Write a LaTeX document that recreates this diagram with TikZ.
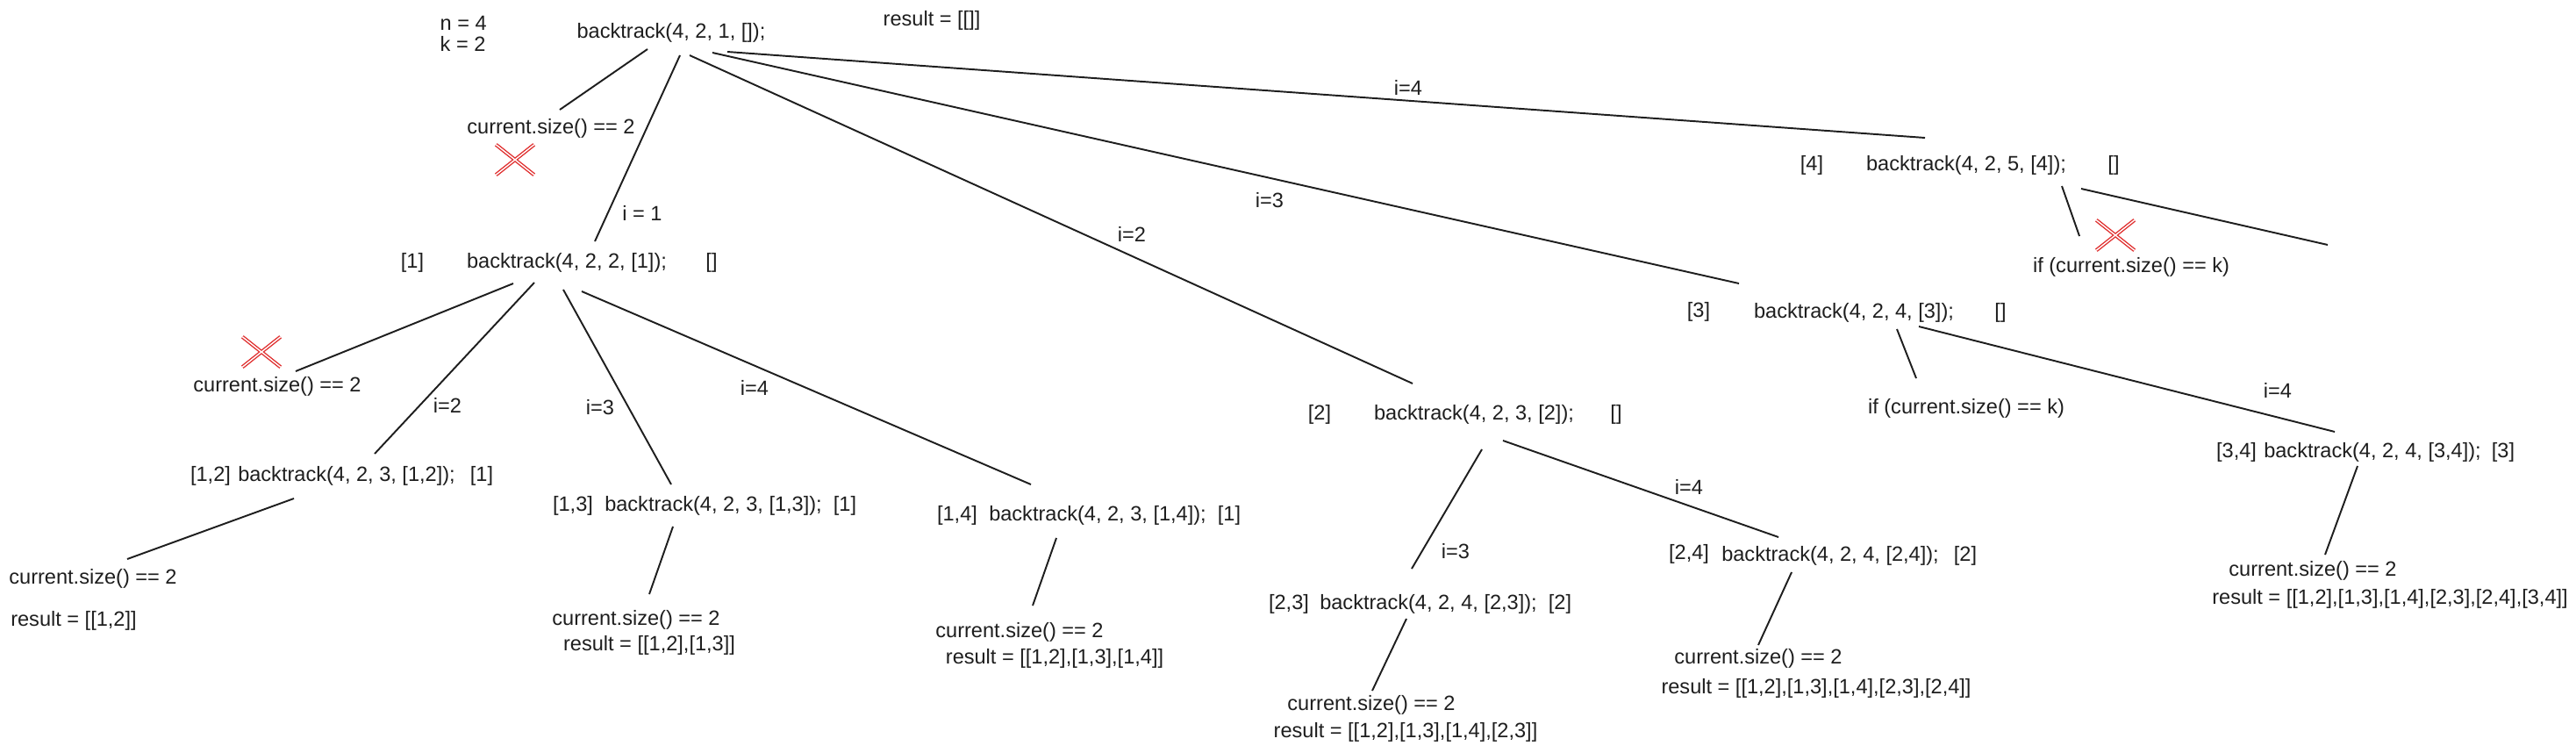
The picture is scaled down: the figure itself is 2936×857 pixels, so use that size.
\documentclass[tikz,border=0pt]{standalone}
\usepackage{fontspec}
\setmainfont{Liberation Sans}
\usepackage{xcolor}
\definecolor{inkblack}{RGB}{30, 30, 30}
\definecolor{crossred}{RGB}{224, 49, 49}
\usetikzlibrary{shapes.misc}

\begin{document}
\begin{tikzpicture}[x=0.01cm, y=-0.01cm,
    txt/.style={inner sep=0pt, text=inkblack, font=\fontsize{6.7}{8}\selectfont},
    link/.style={draw=inkblack, line width=0.55pt},
    prune/.style={cross out, draw=crossred, line width=0.4pt, double=white, double distance=0.4pt, minimum width=0.42cm, minimum height=0.33cm, inner sep=0pt}]
    \useasboundingbox (0,0) rectangle (2936,857);

    \node[txt, anchor=west] (nval) at (501,26) {n = 4};
    \node[txt, anchor=west] (kval) at (501,50) {k = 2};
    \node[txt, anchor=west] (res0) at (1006,23) {result = [[]]};
    \node[txt] (root) at (765,37) {backtrack(4, 2, 1, []);};

    \node[txt] (cs1) at (628,146) {current.size() == 2};
    \node[prune] (x1) at (587,182) {};

    \node[txt] (a1) at (470,299) {[1]};
    \node[txt] (c1) at (646,299) {backtrack(4, 2, 2, [1]);};
    \node[txt] (r1) at (811,299) {[]};
    \node[txt] (a2) at (1504,472) {[2]};
    \node[txt] (c2) at (1680,472) {backtrack(4, 2, 3, [2]);};
    \node[txt] (r2) at (1842,472) {[]};
    \node[txt] (a3) at (1936,355) {[3]};
    \node[txt] (c3) at (2113,356) {backtrack(4, 2, 4, [3]);};
    \node[txt] (r3) at (2280,356) {[]};
    \node[txt] (a4) at (2065,188) {[4]};
    \node[txt] (c4) at (2241,188) {backtrack(4, 2, 5, [4]);};
    \node[txt] (r4) at (2409,188) {[]};

    \node[txt] (i1) at (732,243) {i = 1};
    \node[txt] (i2) at (1290,267) {i=2};
    \node[txt] (i3) at (1447,228) {i=3};
    \node[txt] (i4) at (1605,100) {i=4};

    \node[prune] (x4) at (2411,268) {};
    \node[txt] (if4) at (2429,304) {if (current.size() == k)};
    \coordinate (stub4) at (2653,279);

    \node[txt] (if3) at (2241,465) {if (current.size() == k)};
    \node[txt] (i34) at (2596,445) {i=4};
    \node[txt] (a34) at (2549,515) {[3,4]};
    \node[txt] (c34) at (2704,515) {backtrack(4, 2, 4, [3,4]);};
    \node[txt] (r34) at (2853,515) {[3]};
    \node[txt] (cs34) at (2636,650) {current.size() == 2};
    \node[txt] (res34) at (2724,682) {result = [[1,2],[1,3],[1,4],[2,3],[2,4],[3,4]]};

    \node[txt] (i23) at (1659,628) {i=3};
    \node[txt] (i24) at (1925,555) {i=4};
    \node[txt] (a23) at (1469,688) {[2,3]};
    \node[txt] (c23) at (1628,688) {backtrack(4, 2, 4, [2,3]);};
    \node[txt] (r23) at (1778,688) {[2]};
    \node[txt] (cs23) at (1563,803) {current.size() == 2};
    \node[txt] (res23) at (1602,834) {result = [[1,2],[1,3],[1,4],[2,3]]};
    \node[txt] (a24) at (1925,631) {[2,4]};
    \node[txt] (c24) at (2086,633) {backtrack(4, 2, 4, [2,4]);};
    \node[txt] (r24) at (2240,633) {[2]};
    \node[txt] (cs24) at (2004,750) {current.size() == 2};
    \node[txt] (res24) at (2070,784) {result = [[1,2],[1,3],[1,4],[2,3],[2,4]]};

    \node[txt] (cs2) at (316,440) {current.size() == 2};
    \node[prune] (x2) at (298,401) {};
    \node[txt] (i12) at (510,462) {i=2};
    \node[txt] (i13) at (684,464) {i=3};
    \node[txt] (i14) at (860,442) {i=4};
    \node[txt] (a12) at (240,542) {[1,2]};
    \node[txt] (c12) at (395,542) {backtrack(4, 2, 3, [1,2]);};
    \node[txt] (r12) at (549,542) {[1]};
    \node[txt] (cs12) at (106,659) {current.size() == 2};
    \node[txt] (res12) at (84,707) {result = [[1,2]]};
    \node[txt] (a13) at (653,576) {[1,3]};
    \node[txt] (c13) at (813,576) {backtrack(4, 2, 3, [1,3]);};
    \node[txt] (r13) at (963,576) {[1]};
    \node[txt] (cs13) at (725,706) {current.size() == 2};
    \node[txt] (res13) at (740,735) {result = [[1,2],[1,3]]};
    \node[txt] (a14) at (1091,587) {[1,4]};
    \node[txt] (c14) at (1251,587) {backtrack(4, 2, 3, [1,4]);};
    \node[txt] (r14) at (1401,587) {[1]};
    \node[txt] (cs14) at (1162,720) {current.size() == 2};
    \node[txt] (res14) at (1202,750) {result = [[1,2],[1,3],[1,4]]};

    \draw[link] ([shift={(-27,19)}]root.center) -- ([shift={(10,-21)}]cs1.center);
    \draw[link] ([shift={(10,26)}]root.center) -- ([shift={(32,-24)}]c1.center);
    \draw[link] ([shift={(21,26)}]root.center) -- ([shift={(-70,-35)}]c2.center);
    \draw[link] ([shift={(47,23)}]root.center) -- ([shift={(-131,-33)}]c3.center);
    \draw[link] ([shift={(64,22)}]root.center) -- ([shift={(-47,-31)}]c4.center);

    \draw[link] ([shift={(109,24)}]c4.center) -- ([shift={(-59,-35)}]if4.center);
    \draw[link] ([shift={(131,27)}]c4.center) -- (stub4);
    \draw[link] ([shift={(49,19)}]c3.center) -- ([shift={(-57,-34)}]if3.center);
    \draw[link] ([shift={(74,16)}]c3.center) -- ([shift={(-43,-23)}]c34.center);
    \draw[link] ([shift={(-17,16)}]c34.center) -- ([shift={(14,-18)}]cs34.center);

    \draw[link] ([shift={(9,40)}]c2.center) -- ([shift={(-19,-40)}]c23.center);
    \draw[link] ([shift={(33,30)}]c2.center) -- ([shift={(-59,-21)}]c24.center);
    \draw[link] ([shift={(-25,17)}]c23.center) -- ([shift={(1,-16)}]cs23.center);
    \draw[link] ([shift={(-44,19)}]c24.center) -- ([shift={(0,-15)}]cs24.center);

    \draw[link] ([shift={(-61,24)}]c1.center) -- ([shift={(21,-17)}]cs2.center);
    \draw[link] ([shift={(-37,23)}]c1.center) -- ([shift={(32,-25)}]c12.center);
    \draw[link] ([shift={(-4,31)}]c1.center) -- ([shift={(-48,-24)}]c13.center);
    \draw[link] ([shift={(17,33)}]c1.center) -- ([shift={(-76,-35)}]c14.center);
    \draw[link] ([shift={(-60,26)}]c12.center) -- ([shift={(39,-22)}]cs12.center);
    \draw[link] ([shift={(-46,24)}]c13.center) -- ([shift={(15,-29)}]cs13.center);
    \draw[link] ([shift={(-47,26)}]c14.center) -- ([shift={(15,-30)}]cs14.center);
\end{tikzpicture}
\end{document}
